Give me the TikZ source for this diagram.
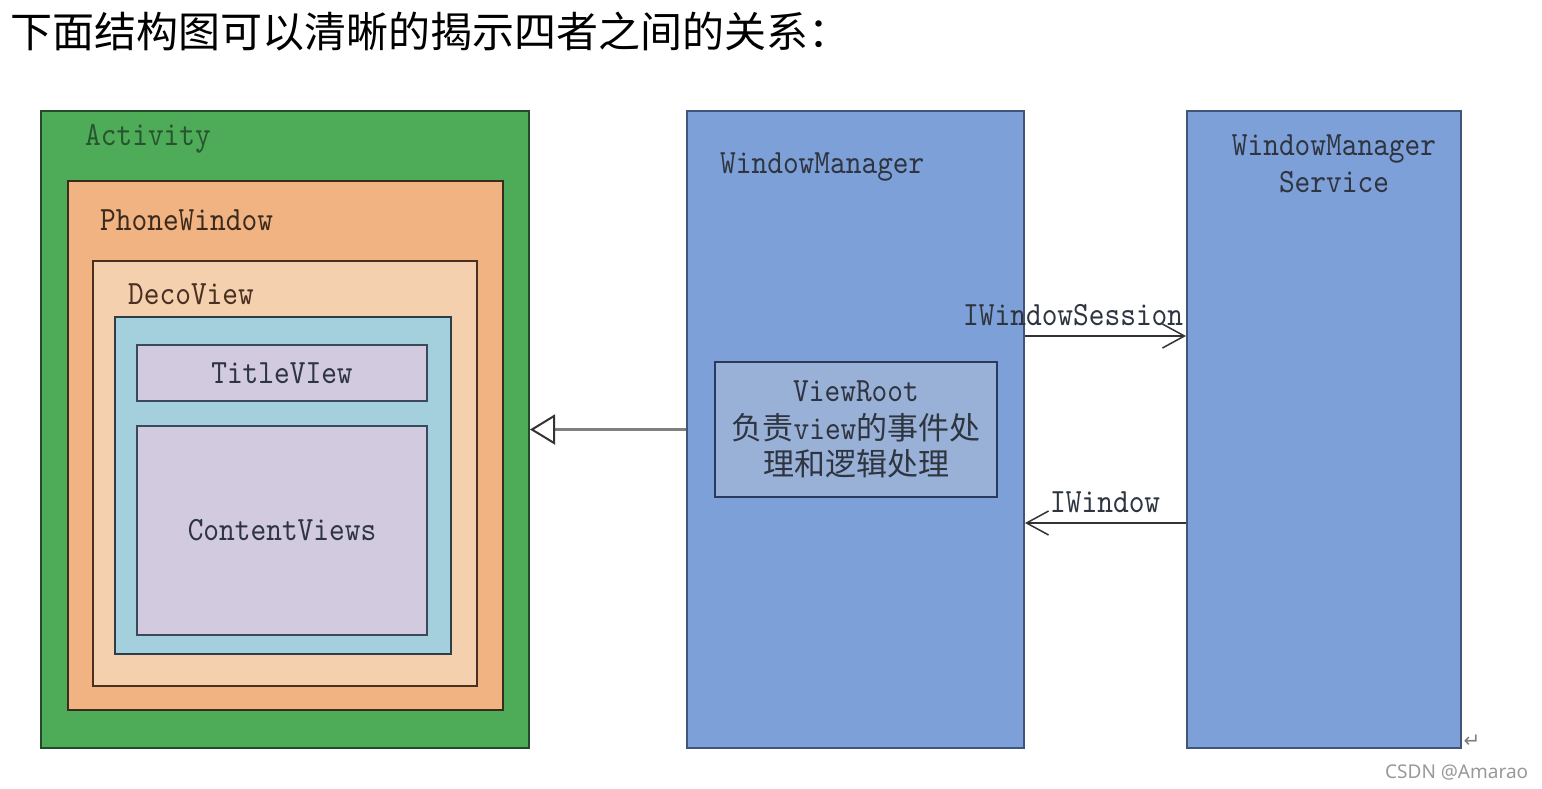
\documentclass[tikz,border=0pt]{standalone}
\usepackage{fontspec}
\usetikzlibrary{arrows.meta}
\newfontfamily\cjk{Noto Sans CJK SC}
\newfontfamily\labfont[FakeStretch=0.88]{lmmono10-regular.otf}
\newfontfamily\sansf{Noto Sans}
\newfontfamily\symf{DejaVu Sans}
\definecolor{actgreen}{HTML}{4EAB58}
\definecolor{actborder}{HTML}{234A2A}
\definecolor{actlabel}{HTML}{275530}
\definecolor{phone}{HTML}{F0B381}
\definecolor{phoneborder}{HTML}{3B2A1E}
\definecolor{deco}{HTML}{F5D0AE}
\definecolor{decoborder}{HTML}{4A3020}
\definecolor{innerblue}{HTML}{A4CFDC}
\definecolor{innerborder}{HTML}{2E3E48}
\definecolor{lav}{HTML}{D2CBE0}
\definecolor{lavborder}{HTML}{3A4A5C}
\definecolor{wmblue}{HTML}{7EA0D8}
\definecolor{wmborder}{HTML}{40547C}
\definecolor{vrblue}{HTML}{9AB1D7}
\definecolor{vrborder}{HTML}{2A3A5E}
\definecolor{labtext}{HTML}{2E3440}
\definecolor{conngray}{HTML}{333333}
\begin{document}
\begin{tikzpicture}[x=1pt,y=-1pt,
  box/.style={draw, line width=2pt, anchor=north west, inner sep=0pt},
  lbl/.style={font=\fontsize{34}{40}\selectfont\labfont, text=labtext, inner sep=0pt},
  conn/.style={draw=conngray, line width=1.5pt, -{Straight Barb[length=22pt,width=24pt,line width=1.5pt]}}]
\useasboundingbox (0,0) rectangle (1542,788);
\fill[white] (0,0) rectangle (1542,788);

% title
\node[anchor=base west, inner sep=0pt, font=\fontsize{42}{46}\selectfont\cjk] (title) at (10,47) {下面结构图可以清晰的揭示四者之间的关系：};

% left nested boxes
\node[box, draw=actborder, fill=actgreen, minimum width=488pt, minimum height=637pt] (act) at (40,110) {};
\node[box, draw=phoneborder, fill=phone, minimum width=435pt, minimum height=529pt] (phone) at (67,180) {};
\node[box, draw=decoborder, fill=deco, minimum width=384pt, minimum height=425pt] (deco) at (92,260) {};
\node[box, draw=innerborder, fill=innerblue, minimum width=336pt, minimum height=337pt] (inner) at (114,316) {};
\node[box, draw=lavborder, fill=lav, minimum width=290pt, minimum height=56pt, lbl] (title view) at (136,344) {TitleVIew};
\node[box, draw=lavborder, fill=lav, minimum width=290pt, minimum height=209pt, lbl] (content) at (136,425) {ContentViews};

\node[lbl, text=actlabel, anchor=base west] (actlbl) at (85,145) {Activity};
\node[lbl, text=phoneborder, anchor=base west] (phonelbl) at (100,230) {PhoneWindow};
\node[lbl, text=decoborder, anchor=base west] (decolbl) at (128,304) {DecoView};

% WindowManager
\node[box, draw=wmborder, fill=wmblue, minimum width=337pt, minimum height=637pt] (wm) at (686,110) {};
\node[lbl, anchor=base west] (wmlbl) at (720,173) {WindowManager};
\node[box, draw=vrborder, fill=vrblue, minimum width=282pt, minimum height=135pt, align=center,
      font=\fontsize{31}{36}\selectfont\cjk, text=labtext] (vr) at (714,361)
  {{\fontsize{34}{36}\selectfont\labfont ViewRoot}\\[2pt]负责{\fontsize{34}{36}\selectfont\labfont view}的事件处\\理和逻辑处理};

% WindowManagerService
\node[box, draw=wmborder, fill=wmblue, minimum width=274pt, minimum height=637pt] (wms) at (1186,110) {};
\node[lbl, anchor=base] (wmslbl1) at (1334,155) {WindowManager};
\node[lbl, anchor=base] (wmslbl2) at (1334,192) {Service};

% connectors
\draw[draw=gray, line width=2.5pt, -{Triangle[open, length=25pt, width=30pt, line width=2pt, color=conngray]}] (wm.west) -- (act.east);
\draw[conn] ([yshift=93.5pt]wm.east) -- ([yshift=93.5pt]wms.west);
\draw[conn] ([yshift=-93.5pt]wms.west) -- ([yshift=-93.5pt]wm.east);
\node[lbl, anchor=base west] (sesslbl) at (963,325) {IWindowSession};
\node[lbl, anchor=base west] (winlbl) at (1050,512) {IWindow};

% marks
\node[inner sep=0pt, anchor=center, font=\fontsize{20}{22}\selectfont\symf, text=gray] (ret) at (1472,741) {↵};
\node[inner sep=0pt, anchor=base west, font=\fontsize{19}{22}\selectfont\sansf, text=gray!80] (csdn) at (1385,778) {CSDN @Amarao};
\end{tikzpicture}
\end{document}
